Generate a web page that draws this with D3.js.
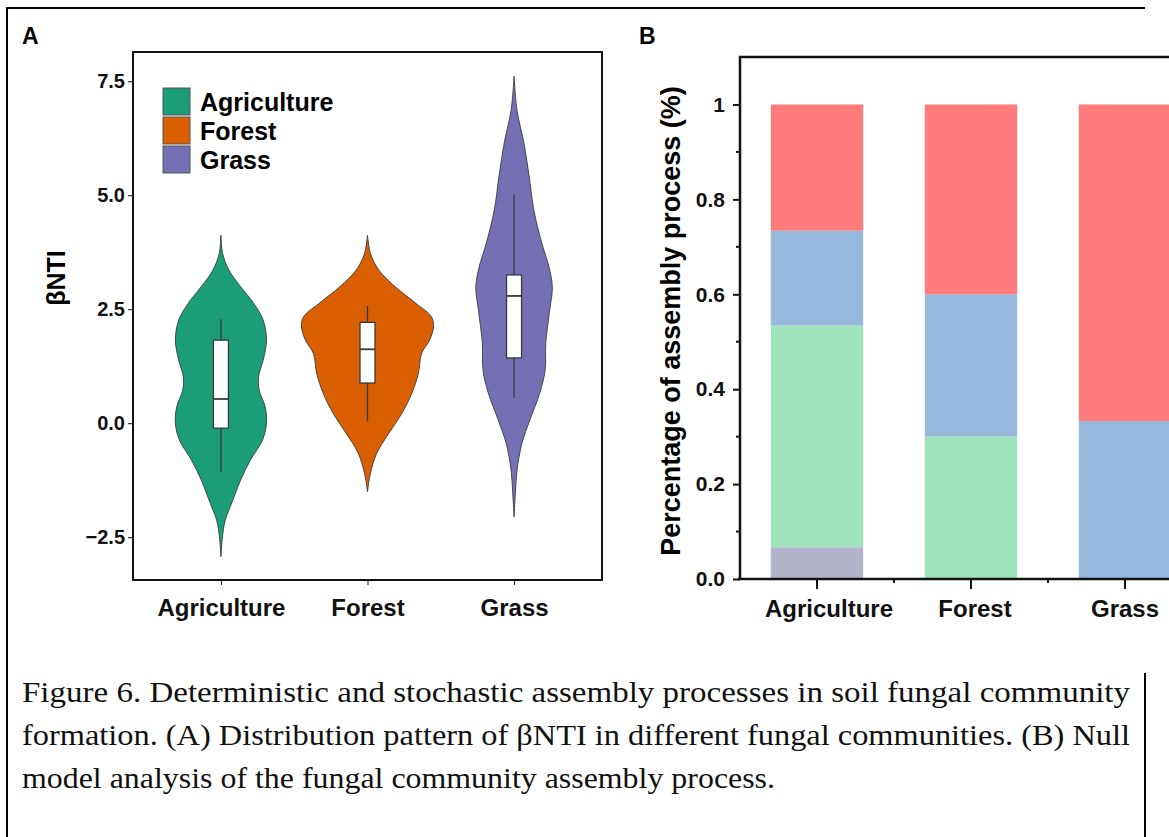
<!DOCTYPE html>
<html>
<head>
<meta charset="utf-8">
<script src="https://cdn.jsdelivr.net/npm/d3@7"></script>
<style>
  html, body { margin: 0; padding: 0; background: #fff; }
  svg { display: block; }
</style>
</head>
<body>
<svg id="fig" width="1169" height="837"></svg>
<script>
// ---------------- DATA ----------------
const categories = ["Agriculture", "Forest", "Grass"];
const violinColors = ["#1B9E77", "#D95F02", "#7570B3"];
const yTicksA = [-2.5, 0, 2.5, 5, 7.5];

// violin outlines: [βNTI value, relative density]
const agricultureProfile = [
  [4.12, 0], [3.72, 0.026], [3.36, 0.12], [2.99, 0.30], [2.62, 0.50], [2.26, 0.64],
  [1.82, 0.69], [1.38, 0.64], [1.02, 0.57], [0.72, 0.58], [0.36, 0.67], [0.0, 0.69],
  [-0.37, 0.63], [-0.80, 0.45], [-1.24, 0.30], [-1.69, 0.18], [-2.13, 0.065],
  [-2.49, 0.023], [-2.93, 0]
];
const forestProfile = [
  [4.12, 0], [3.72, 0.045], [3.36, 0.17], [2.99, 0.42], [2.62, 0.74], [2.33, 0.97],
  [2.11, 1.0], [1.82, 0.94], [1.53, 0.82], [1.09, 0.77], [0.65, 0.67], [0.21, 0.52],
  [-0.23, 0.32], [-0.66, 0.14], [-1.10, 0.045], [-1.50, 0]
];
const grassProfile = [
  [7.61, 0], [6.86, 0.045], [6.14, 0.15], [5.40, 0.23], [4.67, 0.30], [3.95, 0.42],
  [3.42, 0.53], [2.98, 0.58], [2.48, 0.54], [1.75, 0.48], [1.16, 0.47], [0.66, 0.39],
  [0.07, 0.24], [-0.44, 0.12], [-1.03, 0.045], [-1.54, 0.02], [-2.06, 0]
];
const whiskerLow  = [-1.07, 0.04, 0.55];
const quartile1   = [-0.11, 0.88, 1.43];
const medians     = [0.53, 1.62, 2.79];
const quartile3   = [1.82, 2.21, 3.25];
const whiskerHigh = [2.28, 2.57, 5.02];

// Panel B: null-model assembly processes (fractions)
const processNames = ["Homogeneous selection", "Dispersal limitation", "Undominated", "Heterogeneous selection"];
const processColors = ["#B3B4CC", "#A0E4BC", "#95B8DC", "#FF7C7C"];
const homogeneousSelection   = [0.067, 0.0, 0.0];
const dispersalLimitation    = [0.467, 0.3, 0.0];
const undominated            = [0.2, 0.3, 0.333];
const heterogeneousSelection = [0.266, 0.4, 0.667];
const yTicksB = [0, 0.2, 0.4, 0.6, 0.8, 1];
const yMinorTicksB = [0.1, 0.3, 0.5, 0.7, 0.9];

const captionLines = [
  "Figure 6. Deterministic and stochastic assembly processes in soil fungal community",
  "formation. (A) Distribution pattern of βNTI in different fungal communities. (B) Null",
  "model analysis of the fungal community assembly process."
];

// ---------------- DRAW ----------------
const svg = d3.select("#fig");
const SANS = "'Liberation Sans', Arial, Helvetica, sans-serif";
const SERIF = "'Liberation Serif', 'Times New Roman', serif";

svg.append("rect").attr("width", 1169).attr("height", 837).attr("fill", "#fff");

// page frame lines
svg.append("path").attr("d", "M7,837V8H1145").attr("fill", "none").attr("stroke", "#000").attr("stroke-width", 2);
svg.append("line").attr("x1", 1145).attr("x2", 1145).attr("y1", 673).attr("y2", 837)
  .attr("stroke", "#000").attr("stroke-width", 2);

// ===== Panel A =====
const A = { left: 133, right: 602, top: 52, bottom: 580 };
svg.append("text").attr("x", 22).attr("y", 44).text("A")
  .attr("font-family", SANS).attr("font-weight", "bold").attr("font-size", 23);

const xA = d3.scalePoint().domain(categories).range([A.left, A.right]).padding(0.6);
const yA = d3.scaleLinear().domain([-3.44, 8.14]).range([A.bottom, A.top]);
const wA = d3.scaleLinear().domain([0, 1]).range([0, 66]);

const profiles = [agricultureProfile, forestProfile, grassProfile];
const gA = svg.append("g");
profiles.forEach((prof, i) => {
  const cx = xA(categories[i]);
  const area = d3.area()
    .y(d => yA(d[0]))
    .x0(d => cx - wA(d[1]))
    .x1(d => cx + wA(d[1]))
    .curve(d3.curveCatmullRom.alpha(0.5));
  gA.append("path").attr("d", area(prof))
    .attr("fill", violinColors[i]).attr("stroke", "#3a3a3a").attr("stroke-width", 0.9);
  // whisker
  gA.append("line").attr("x1", cx).attr("x2", cx)
    .attr("y1", yA(whiskerLow[i])).attr("y2", yA(whiskerHigh[i]))
    .attr("stroke", "#3a3a3a").attr("stroke-width", 1.3);
  // box
  const bw = 15;
  gA.append("rect").attr("x", cx - bw / 2).attr("width", bw)
    .attr("y", yA(quartile3[i])).attr("height", yA(quartile1[i]) - yA(quartile3[i]))
    .attr("fill", "#fff").attr("stroke", "#3a3a3a").attr("stroke-width", 1.3);
  gA.append("line").attr("x1", cx - bw / 2).attr("x2", cx + bw / 2)
    .attr("y1", yA(medians[i])).attr("y2", yA(medians[i]))
    .attr("stroke", "#3a3a3a").attr("stroke-width", 1.8);
});

// frame
svg.append("rect").attr("x", A.left).attr("y", A.top)
  .attr("width", A.right - A.left).attr("height", A.bottom - A.top)
  .attr("fill", "none").attr("stroke", "#111").attr("stroke-width", 2);

// y axis A
const yAxisA = svg.append("g").attr("transform", `translate(${A.left},0)`)
  .call(d3.axisLeft(yA).tickValues(yTicksA).tickFormat(d3.format(".1f")).tickSize(5).tickPadding(3));
yAxisA.select(".domain").remove();
yAxisA.selectAll(".tick line").attr("stroke", "#333").attr("stroke-width", 1.2);
yAxisA.selectAll(".tick text").attr("font-family", SANS).attr("font-weight", "bold")
  .attr("font-size", 20).attr("fill", "#111");

// x axis A
const xAxisA = svg.append("g").attr("transform", `translate(0,${A.bottom})`)
  .call(d3.axisBottom(xA).tickSize(5).tickPadding(14));
xAxisA.select(".domain").remove();
xAxisA.selectAll(".tick line").attr("stroke", "#333").attr("stroke-width", 1.2);
xAxisA.selectAll(".tick text").attr("font-family", SANS).attr("font-weight", "bold")
  .attr("font-size", 24).attr("fill", "#111");

// y title A
svg.append("text").attr("transform", "translate(65,278) rotate(-90)")
  .attr("text-anchor", "middle").text("βNTI")
  .attr("font-family", SANS).attr("font-weight", "bold").attr("font-size", 25);

// legend A
const leg = svg.append("g");
categories.forEach((c, i) => {
  leg.append("rect").attr("x", 163).attr("y", 88 + i * 29).attr("width", 27).attr("height", 27)
    .attr("fill", violinColors[i]).attr("stroke", "#555").attr("stroke-width", 1);
  leg.append("text").attr("x", 200).attr("y", 111 + i * 29).text(c)
    .attr("font-family", SANS).attr("font-weight", "bold").attr("font-size", 25);
});

// ===== Panel B =====
const B = { left: 740, right: 1202, top: 57, bottom: 579 };
svg.append("text").attr("x", 639).attr("y", 44).text("B")
  .attr("font-family", SANS).attr("font-weight", "bold").attr("font-size", 23);

const xB = d3.scaleBand().domain(categories).range([B.left, B.right]).paddingInner(0.4).paddingOuter(0.2);
const yB = d3.scaleLinear().domain([0, 1.1]).range([B.bottom, B.top]);

const tableB = categories.map((c, i) => ({
  cat: c,
  [processNames[0]]: homogeneousSelection[i],
  [processNames[1]]: dispersalLimitation[i],
  [processNames[2]]: undominated[i],
  [processNames[3]]: heterogeneousSelection[i]
}));
const stacked = d3.stack().keys(processNames)(tableB);
const gB = svg.append("g");
stacked.forEach((layer, k) => {
  gB.selectAll(null).data(layer).join("rect")
    .attr("x", d => xB(d.data.cat))
    .attr("width", xB.bandwidth())
    .attr("y", d => yB(d[1]))
    .attr("height", d => yB(d[0]) - yB(d[1]))
    .attr("fill", processColors[k]);
});

// axes B
const yAxisB = svg.append("g").attr("transform", `translate(${B.left},0)`)
  .call(d3.axisLeft(yB).tickValues(yTicksB)
    .tickFormat(d => d === 1 ? "1" : d3.format(".1f")(d)).tickSize(7).tickPadding(8));
yAxisB.select(".domain").remove();
yAxisB.selectAll(".tick line").attr("stroke", "#111").attr("stroke-width", 2);
yAxisB.selectAll(".tick text").attr("font-family", SANS).attr("font-weight", "bold")
  .attr("font-size", 21).attr("fill", "#111");
svg.append("g").selectAll("line").data(yMinorTicksB).join("line")
  .attr("x1", B.left - 4).attr("x2", B.left).attr("y1", d => yB(d)).attr("y2", d => yB(d))
  .attr("stroke", "#111").attr("stroke-width", 2);

// x axis B: major ticks at centres, minor at band boundaries
const xAxisB = svg.append("g").attr("transform", `translate(0,${B.bottom})`);
xAxisB.selectAll("line.maj").data(categories).join("line")
  .attr("x1", d => xB(d) + xB.bandwidth() / 2).attr("x2", d => xB(d) + xB.bandwidth() / 2)
  .attr("y1", 0).attr("y2", 10).attr("stroke", "#111").attr("stroke-width", 2);
xAxisB.selectAll("line.min").data(categories.slice(1)).join("line")
  .attr("x1", d => xB(d) - xB.step() * xB.paddingInner() / 2)
  .attr("x2", d => xB(d) - xB.step() * xB.paddingInner() / 2)
  .attr("y1", 0).attr("y2", 4).attr("stroke", "#111").attr("stroke-width", 2);
const labelShift = { Agriculture: 12, Forest: 4, Grass: 0 };
xAxisB.selectAll("text").data(categories).join("text")
  .attr("x", d => xB(d) + xB.bandwidth() / 2 + labelShift[d]).attr("y", 38)
  .attr("text-anchor", "middle").text(d => d)
  .attr("font-family", SANS).attr("font-weight", "bold").attr("font-size", 24).attr("fill", "#111");

// frame lines B (left, bottom, top, right)
svg.append("path")
  .attr("d", `M${B.left - 2},${B.bottom}H${B.right}V${B.top}H${B.left}V${B.bottom}`)
  .attr("fill", "none").attr("stroke", "#111").attr("stroke-width", 2.5);

// y title B
svg.append("text").attr("transform", "translate(680,321) rotate(-90)")
  .attr("text-anchor", "middle").text("Percentage of assembly process (%)")
  .attr("font-family", SANS).attr("font-weight", "bold").attr("font-size", 27);

// ===== Caption =====
const capWidths = [1108, 1108, 753];
const capBase = [702, 745, 788];
captionLines.forEach((t, i) => {
  svg.append("text").attr("x", 22).attr("y", capBase[i]).text(t)
    .attr("font-family", SERIF).attr("font-size", 29).attr("fill", "#111")
    .attr("textLength", capWidths[i]).attr("lengthAdjust", "spacingAndGlyphs");
});
</script>
</body>
</html>
